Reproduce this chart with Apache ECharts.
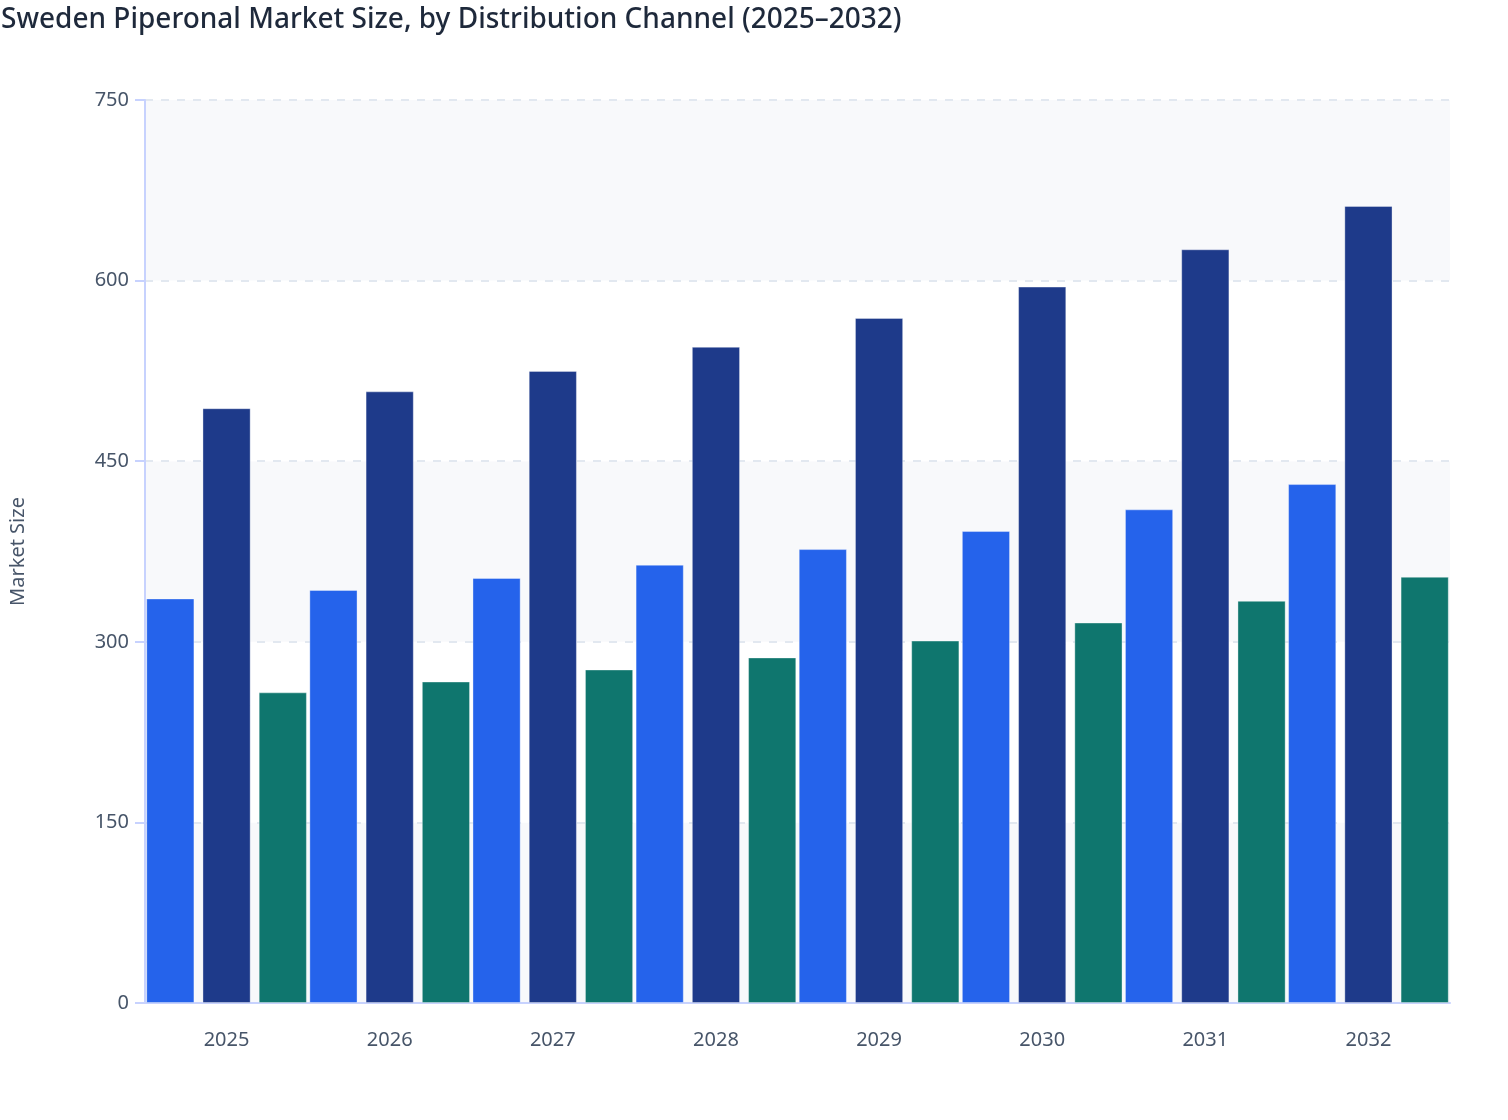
<!DOCTYPE html>
<html>
<head>
<meta charset="utf-8">
<title>Sweden Piperonal Market Size</title>
<script src="https://cdn.jsdelivr.net/npm/echarts@6/dist/echarts.min.js"></script>
<style>
  html, body { margin: 0; padding: 0; background: #fff; }
  #chart { width: 1508px; height: 1120px; }
</style>
</head>
<body>
<div id="chart"></div>
<script>
var years = ['2025', '2026', '2027', '2028', '2029', '2030', '2031', '2032'];
var channelNames = ['Direct Sales', 'Distributors', 'Online Retail'];
var directSales = [336, 343, 353, 364, 377, 392, 410, 431];
var distributors = [494, 508, 525, 545, 569, 595, 626, 662];
var onlineRetail = [258, 267, 277, 287, 301, 316, 334, 354];
var yTicks = [0, 150, 300, 450, 600, 750];

var colors = ['#2563EB', '#1E3A8A', '#0F766E'];
var seriesData = [directSales, distributors, onlineRetail];

var myChart = echarts.init(document.getElementById('chart'));

var option = {
	backgroundColor: '#ffffff',
	animation: false,
	textStyle: { fontFamily: 'Noto Sans' },
	title: {
		text: 'Sweden Piperonal Market Size, by Distribution Channel (2025\u20132032)',
		left: 1,
		top: 6,
		padding: 0,
		textStyle: { fontSize: 28, fontWeight: 500, color: '#1E293B', fontFamily: 'Noto Sans' }
	},
	tooltip: { trigger: 'axis' },
	grid: { left: 145, right: 58, top: 100, bottom: 117, outerBoundsMode: 'none', containLabel: false },
	xAxis: {
		type: 'category',
		data: years,
		axisLine: { lineStyle: { color: '#C7D2FE', width: 2 } },
		axisTick: { alignWithLabel: true, length: 10, lineStyle: { color: '#C7D2FE', width: 2 } },
		axisLabel: { fontSize: 20, color: '#475569', margin: 27 }
	},
	yAxis: {
		type: 'value',
		min: yTicks[0],
		max: yTicks[yTicks.length - 1],
		interval: 150,
		name: 'Market Size',
		nameLocation: 'middle',
		nameGap: 117,
		nameTextStyle: { fontSize: 20, color: '#475569' },
		axisLine: { show: true, lineStyle: { color: '#C7D2FE', width: 2 } },
		axisTick: { show: true, length: 10, lineStyle: { color: '#C7D2FE', width: 2 } },
		axisLabel: { fontSize: 20, color: '#475569', margin: 16 },
		splitLine: { lineStyle: { color: '#E2E8F0', type: [8, 8], width: 2 } },
		splitArea: { show: true, areaStyle: { color: ['#F8F9FB', '#FFFFFF'] } }
	},
	series: []
};

for (var i = 0; i < seriesData.length; i++) {
	option.series.push({
		name: channelNames[i],
		type: 'bar',
		data: seriesData[i],
		barGap: '16.7%',
		barCategoryGap: '1.5%',
		itemStyle: { color: colors[i], borderColor: 'rgba(255,255,255,0.35)', borderWidth: 1 }
	});
}

myChart.setOption(option, true);
</script>
</body>
</html>
